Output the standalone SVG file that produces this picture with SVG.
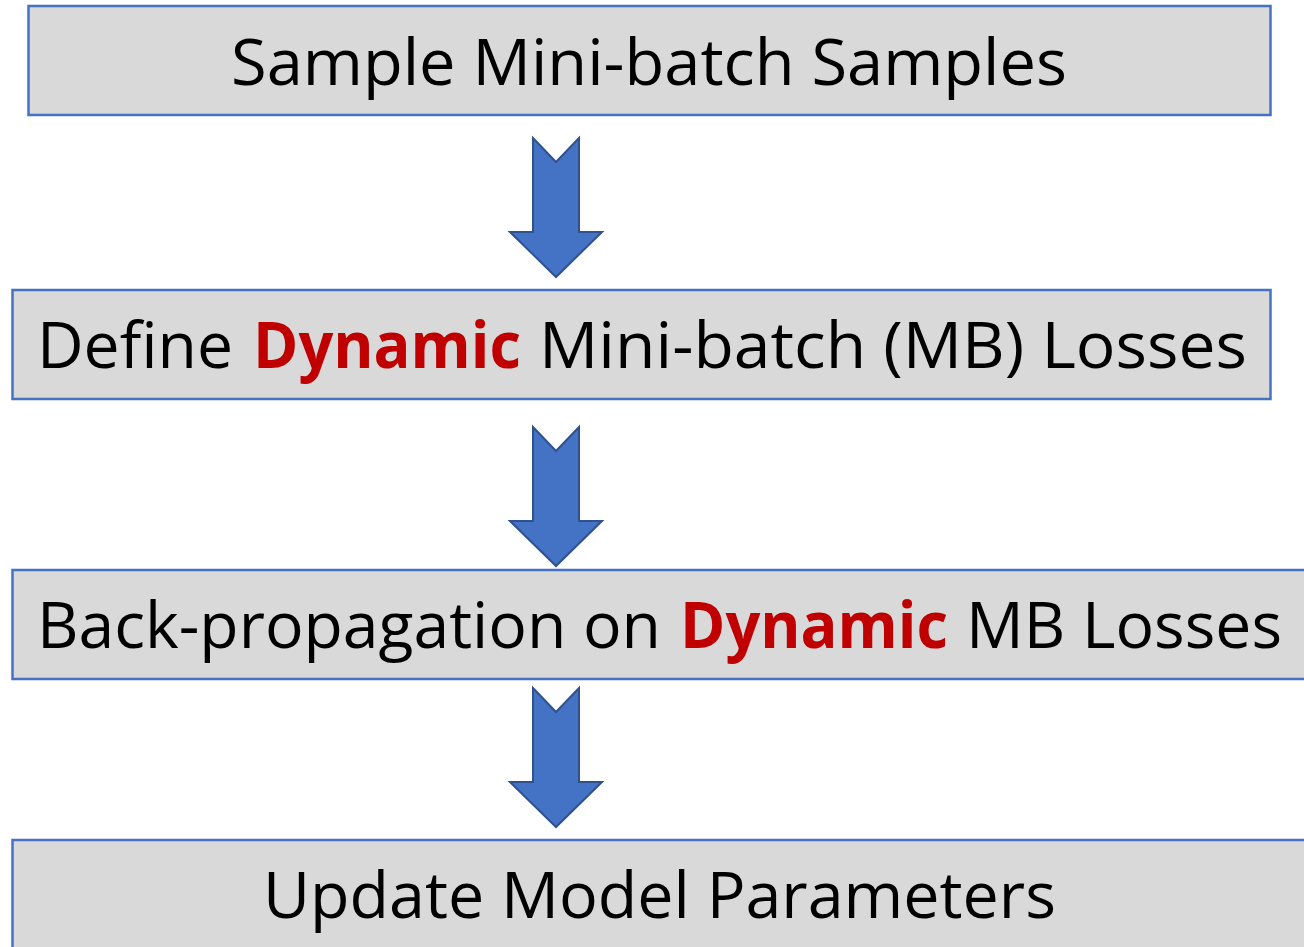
<svg xmlns="http://www.w3.org/2000/svg" width="1304" height="947" viewBox="0 0 1304 947">
  <style>
    .box { fill: #D9D9D9; stroke: #4472C4; stroke-width: 2.5; }
    .lbl { font-family: "Open Sans", "Noto Sans", "Liberation Sans", sans-serif; font-size: 64px; fill: #000000; }
    .mid { text-anchor: middle; }
    .hl { fill: #C00000; font-weight: bold; }
    .arrow { fill: #4472C4; stroke: #2F528F; stroke-width: 2; stroke-linejoin: miter; }
  </style>
  <defs>
    <polygon id="downArrow" class="arrow" points="533,138 556,162 579,138 579,232 602,232 556,277 510,232 533,232"/>
  </defs>
  <rect width="1304" height="947" fill="#FFFFFF"/>

  <g id="node-sample">
    <rect class="box" x="28.5" y="6" width="1242" height="109"/>
    <text class="lbl mid" x="649" y="85" textLength="836" lengthAdjust="spacingAndGlyphs">Sample Mini-batch Samples</text>
  </g>

  <g id="node-define">
    <rect class="box" x="12.5" y="290" width="1258" height="109"/>
    <text class="lbl" x="37" y="368" textLength="196" lengthAdjust="spacingAndGlyphs">Define</text>
    <text class="lbl hl" x="253" y="368" textLength="268" lengthAdjust="spacingAndGlyphs">Dynamic</text>
    <text class="lbl" x="539" y="368" textLength="708" lengthAdjust="spacingAndGlyphs">Mini-batch (MB) Losses</text>
  </g>

  <g id="node-backprop">
    <rect class="box" x="12.5" y="570" width="1295" height="109"/>
    <text class="lbl" x="37" y="648" textLength="624" lengthAdjust="spacingAndGlyphs">Back-propagation on</text>
    <text class="lbl hl" x="680" y="648" textLength="268" lengthAdjust="spacingAndGlyphs">Dynamic</text>
    <text class="lbl" x="966" y="648" textLength="316" lengthAdjust="spacingAndGlyphs">MB Losses</text>
  </g>

  <g id="node-update">
    <rect class="box" x="12.5" y="840" width="1295" height="120"/>
    <text class="lbl mid" x="659.5" y="918" textLength="793" lengthAdjust="spacingAndGlyphs">Update Model Parameters</text>
  </g>

  <g id="connectors">
    <use href="#downArrow"/>
    <use href="#downArrow" transform="translate(0,289)"/>
    <use href="#downArrow" transform="translate(0,550)"/>
  </g>
</svg>
